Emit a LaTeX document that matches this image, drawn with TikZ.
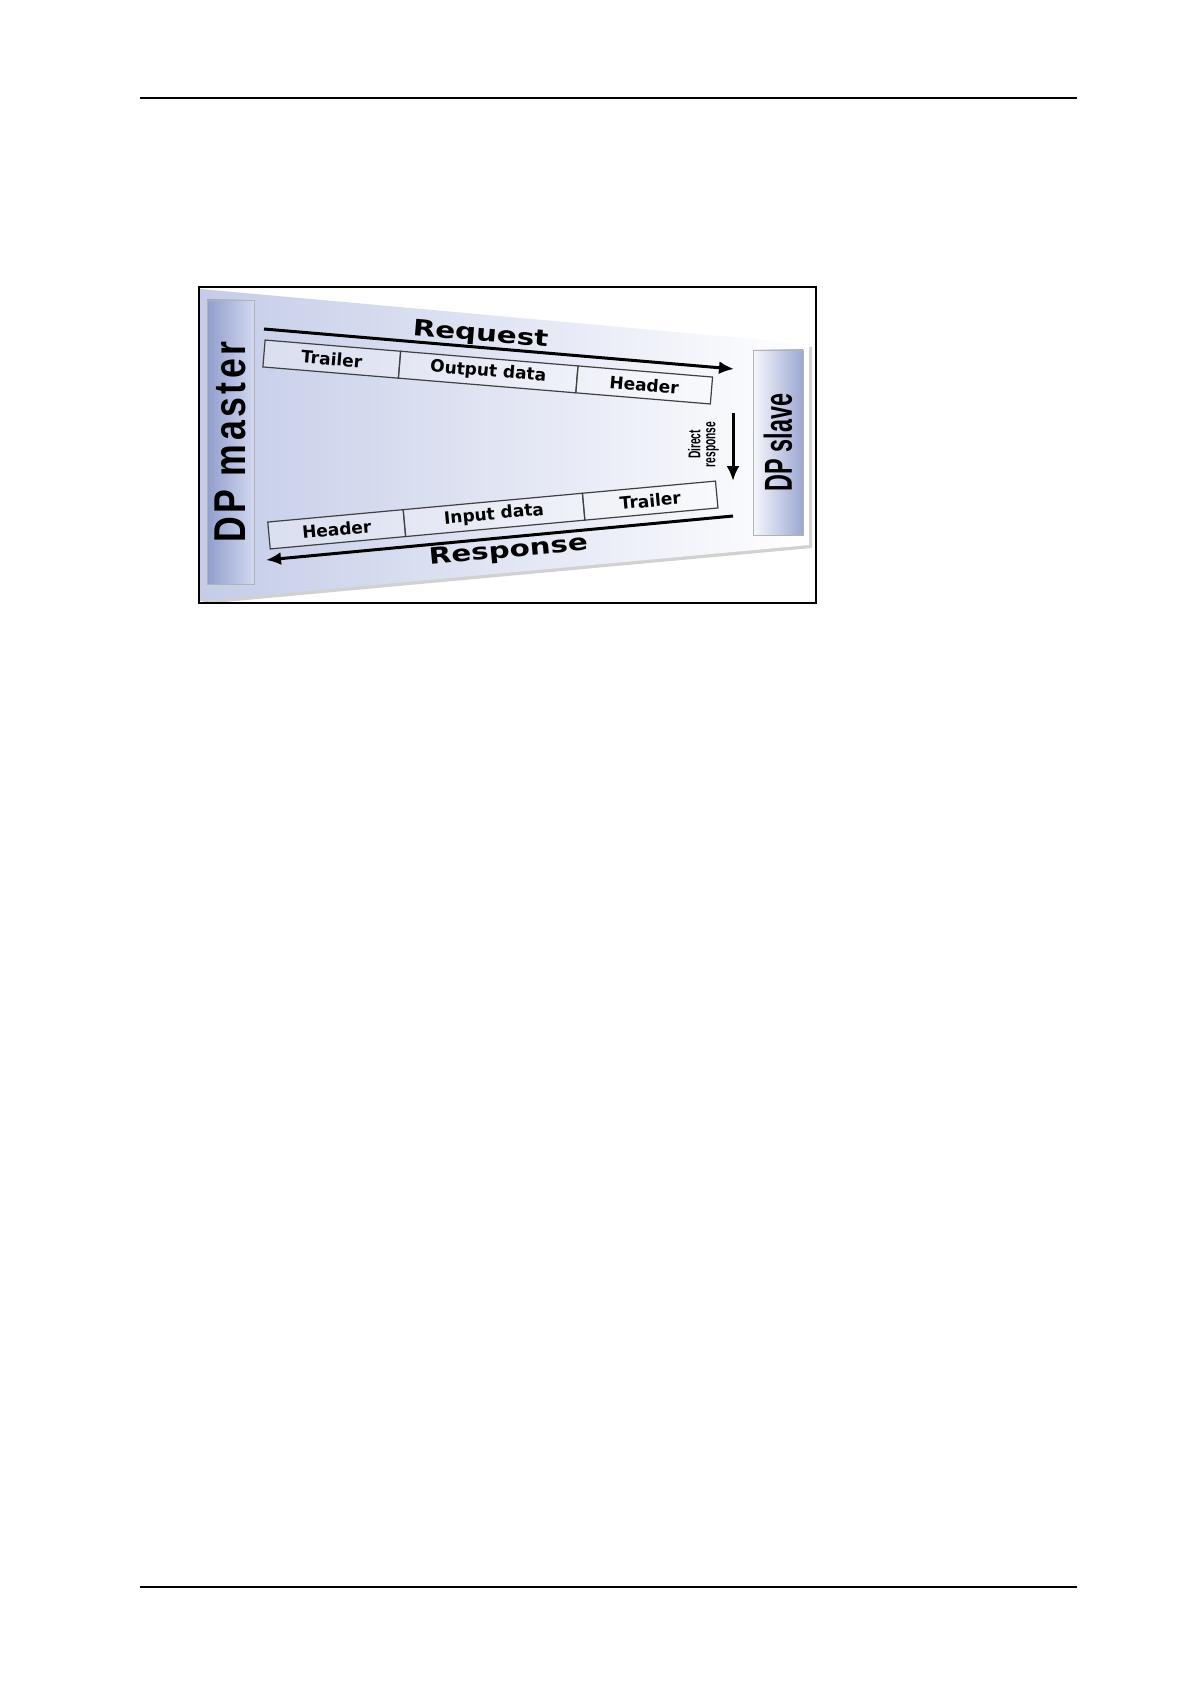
\documentclass[tikz,border=0pt]{standalone}
\usepackage{fontspec}
\setmainfont{DejaVu Sans}
\newfontfamily\wideFont[FakeStretch=1.3]{DejaVu Sans}
\newfontfamily\masterFont[FakeStretch=0.8,LetterSpace=8]{Liberation Sans}
\newfontfamily\narrowFont[FakeStretch=0.6]{Liberation Sans}
\usetikzlibrary{arrows.meta}

\definecolor{panelL}{RGB}{196,204,232}
\definecolor{panelM}{RGB}{222,227,243}
\definecolor{barDark}{RGB}{145,158,205}
\definecolor{barLight}{RGB}{210,216,239}

\tikzset{
  cell/.style={draw=black!75, line width=0.6pt, fill=white, fill opacity=0.3, text opacity=1,
    minimum height=13.5pt, inner sep=0pt, outer sep=0pt, font=\bfseries\fontsize{8.5}{10}\selectfont},
  flow/.style={line width=1.5pt, -{Latex[length=7.5pt,width=6.5pt]}},
  title/.style={anchor=base, inner sep=0pt, font=\wideFont\bfseries\fontsize{11.3}{13}\selectfont},
}

\begin{document}
\begin{tikzpicture}[x=0.5pt,y=-0.5pt]
\useasboundingbox (0,0) rectangle (1190,1684);
\draw[line width=1pt] (140,98) -- (1077,98);% page rule
\draw[line width=1pt] (140,1587) -- (1077,1587);% page rule

\fill[black!18] (203,292) -- (812,347) -- (812,548) -- (203,604) -- cycle;% shadow
\shade[left color=panelL, middle color=panelM, right color=white]
  (200,289) -- (809,344) -- (809,545) -- (200,601) -- cycle;

\node[rotate=90, draw=black!30, left color=barDark, right color=barLight,
  minimum width=142pt, minimum height=23.5pt, inner sep=0pt,
  font=\masterFont\bfseries\fontsize{22.3}{24}\selectfont] (master) at (230.5,442) {DP master};
\node[rotate=90, draw=black!30, left color=white!80!barLight, right color=barDark!90,
  minimum width=92.5pt, minimum height=25pt, inner sep=0pt,
  font=\narrowFont\bfseries\fontsize{19.5}{21}\selectfont] (slave) at (778,442.5) {DP slave};

% request frame
\node[title, rotate=-4.8] (request) at (480,341) {Request};
\coordinate (reqS) at (264,329);
\coordinate (reqE) at (734,369);
\draw[flow] (reqS) -- (reqE);
\node[cell, rotate=-4.73, anchor=west, minimum width=68pt] (reqTrailer) at (264,353.5) {Trailer};
\node[cell, rotate=-4.73, anchor=west, minimum width=89pt] (reqOutput) at (reqTrailer.east) {Output data};
\node[cell, rotate=-4.73, anchor=west, minimum width=67.5pt] (reqHeader) at (reqOutput.east) {Header};

% direct response
\node[rotate=90, align=center, inner sep=0pt,
  font=\narrowFont\bfseries\fontsize{8.5}{7.5}\selectfont] (direct) at (703.5,444.5) {Direct\\response};
\coordinate (dirS) at (733,413);
\coordinate (dirE) at (733,481);
\draw[flow] (dirS) -- (dirE);

% response frame
\node[cell, rotate=5.23, anchor=west, minimum width=68pt] (resHeader) at (269,535.5) {Header};
\node[cell, rotate=5.23, anchor=west, minimum width=90pt] (resInput) at (resHeader.east) {Input data};
\node[cell, rotate=5.23, anchor=west, minimum width=66.8pt] (resTrailer) at (resInput.east) {Trailer};
\coordinate (resS) at (733,516);
\coordinate (resE) at (266,560);
\draw[flow] (resS) -- (resE);
\node[title, rotate=5.3] (response) at (509,557.5) {Response};

\draw[line width=0.7pt] (199,287) rectangle (816,603);% frame
\end{tikzpicture}
\end{document}
